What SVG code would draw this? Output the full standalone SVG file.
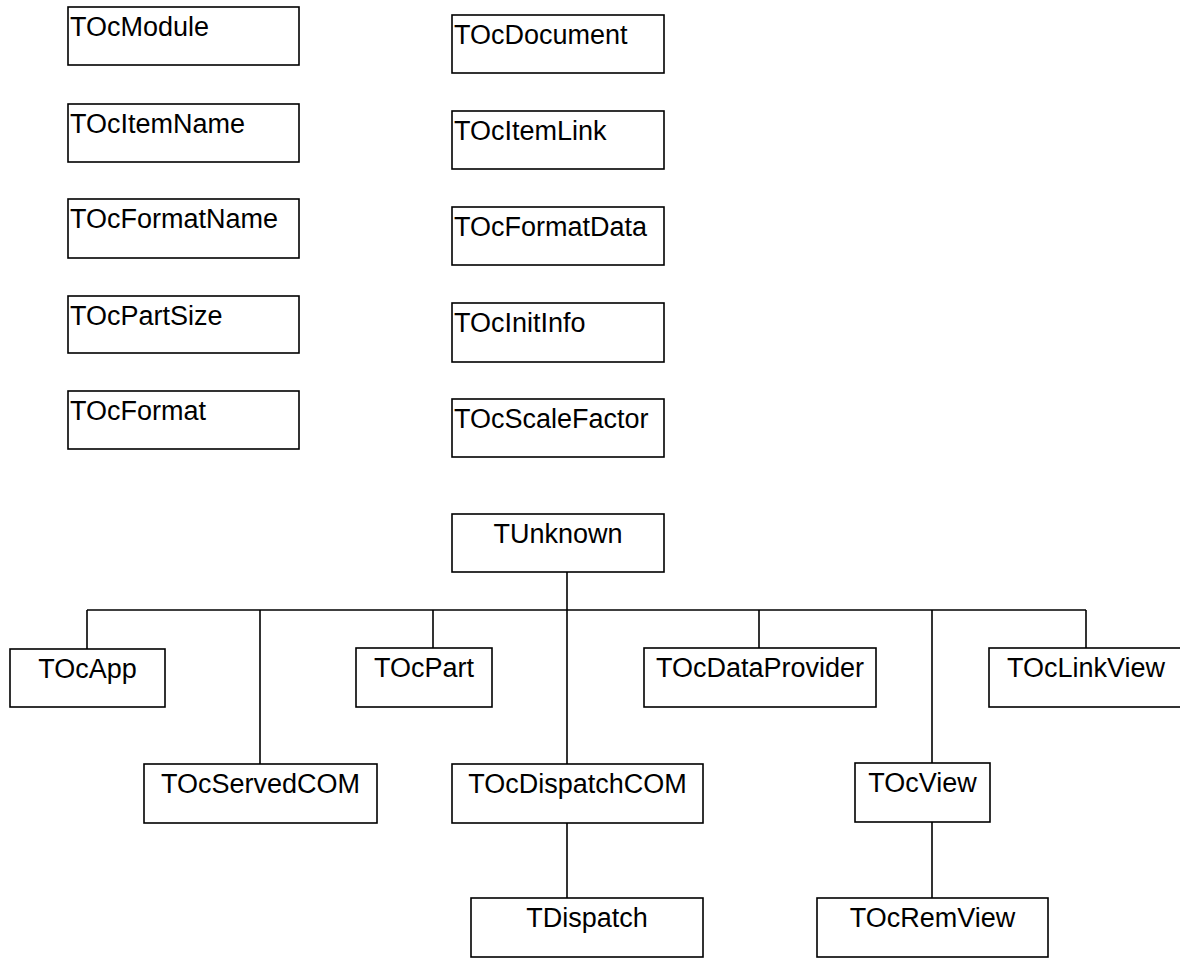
<svg xmlns="http://www.w3.org/2000/svg" width="1180" height="958" viewBox="0 0 1180 958">
  <style>
    .box { fill: #ffffff; stroke: #000000; stroke-width: 1.6; }
    .lbl { font-family: "Liberation Sans", Arial, sans-serif; font-size: 27px; fill: #000000; }
    .ctr { text-anchor: middle; }
    .wire { fill: none; stroke: #000000; stroke-width: 1.6; }
  </style>
  <rect width="1180" height="958" fill="#ffffff"/>

  <!-- connectors -->
  <g id="connectors">
    <line class="wire" x1="567" y1="572" x2="567" y2="764"/>
    <line class="wire" x1="87" y1="610" x2="1086" y2="610"/>
    <line class="wire" x1="87" y1="610" x2="87" y2="649"/>
    <line class="wire" x1="260" y1="610" x2="260" y2="764"/>
    <line class="wire" x1="433" y1="610" x2="433" y2="648"/>
    <line class="wire" x1="759" y1="610" x2="759" y2="648"/>
    <line class="wire" x1="932" y1="610" x2="932" y2="763"/>
    <line class="wire" x1="1086" y1="610" x2="1086" y2="648"/>
    <line class="wire" x1="567" y1="823" x2="567" y2="898"/>
    <line class="wire" x1="932" y1="822" x2="932" y2="898"/>
  </g>

  <!-- standalone classes, left column -->
  <g id="TOcModule"><rect class="box" x="68" y="7" width="231" height="58"/><text class="lbl" x="70" y="36">TOcModule</text></g>
  <g id="TOcItemName"><rect class="box" x="68" y="104" width="231" height="58"/><text class="lbl" x="70" y="133">TOcItemName</text></g>
  <g id="TOcFormatName"><rect class="box" x="68" y="199" width="231" height="59"/><text class="lbl" x="70" y="228">TOcFormatName</text></g>
  <g id="TOcPartSize"><rect class="box" x="68" y="296" width="231" height="57"/><text class="lbl" x="70" y="325">TOcPartSize</text></g>
  <g id="TOcFormat"><rect class="box" x="68" y="391" width="231" height="58"/><text class="lbl" x="70" y="420">TOcFormat</text></g>

  <!-- standalone classes, right column -->
  <g id="TOcDocument"><rect class="box" x="452" y="15" width="212" height="58"/><text class="lbl" x="454" y="44">TOcDocument</text></g>
  <g id="TOcItemLink"><rect class="box" x="452" y="111" width="212" height="58"/><text class="lbl" x="454" y="140">TOcItemLink</text></g>
  <g id="TOcFormatData"><rect class="box" x="452" y="207" width="212" height="58"/><text class="lbl" x="454" y="236">TOcFormatData</text></g>
  <g id="TOcInitInfo"><rect class="box" x="452" y="303" width="212" height="59"/><text class="lbl" x="454" y="332">TOcInitInfo</text></g>
  <g id="TOcScaleFactor"><rect class="box" x="452" y="399" width="212" height="58"/><text class="lbl" x="454" y="428">TOcScaleFactor</text></g>

  <!-- hierarchy -->
  <g id="TUnknown"><rect class="box" x="452" y="514" width="212" height="58"/><text class="lbl ctr" x="558" y="543">TUnknown</text></g>
  <g id="TOcApp"><rect class="box" x="10" y="649" width="155" height="58"/><text class="lbl ctr" x="87.5" y="678">TOcApp</text></g>
  <g id="TOcServedCOM"><rect class="box" x="144" y="764" width="233" height="59"/><text class="lbl ctr" x="260.5" y="793">TOcServedCOM</text></g>
  <g id="TOcPart"><rect class="box" x="356" y="648" width="136" height="59"/><text class="lbl ctr" x="424" y="677">TOcPart</text></g>
  <g id="TOcDispatchCOM"><rect class="box" x="452" y="764" width="251" height="59"/><text class="lbl ctr" x="577.5" y="793">TOcDispatchCOM</text></g>
  <g id="TOcDataProvider"><rect class="box" x="644" y="648" width="232" height="59"/><text class="lbl ctr" x="760" y="677">TOcDataProvider</text></g>
  <g id="TOcView"><rect class="box" x="855" y="763" width="135" height="59"/><text class="lbl ctr" x="922.5" y="792">TOcView</text></g>
  <g id="TOcLinkView"><rect class="box" x="989" y="648" width="194" height="59"/><text class="lbl ctr" x="1086" y="677">TOcLinkView</text></g>
  <g id="TDispatch"><rect class="box" x="471" y="898" width="232" height="59"/><text class="lbl ctr" x="587" y="927">TDispatch</text></g>
  <g id="TOcRemView"><rect class="box" x="817" y="898" width="231" height="59"/><text class="lbl ctr" x="932.5" y="927">TOcRemView</text></g>
</svg>
